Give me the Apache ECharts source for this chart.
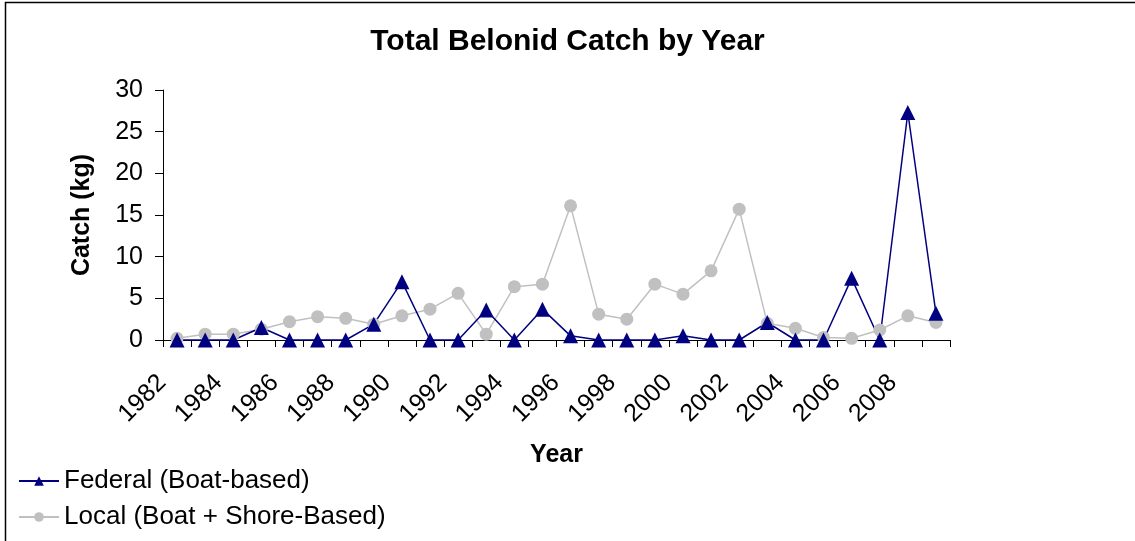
<!DOCTYPE html>
<html lang="en">
<head>
    <meta charset="UTF-8">
    <script src="https://cdn.jsdelivr.net/npm/echarts@6/dist/echarts.min.js"></script>
    <style>
        html, body {margin:0; padding:0; background:#fff;}
        #chart {width:1135px; height:541px;}
    </style>
    <title>Total Belonid Catch by Year</title>
    <script>
        // years on the x axis
        const years = ['1982','1983','1984','1985','1986','1987','1988','1989','1990','1991',
                       '1992','1993','1994','1995','1996','1997','1998','1999','2000','2001',
                       '2002','2003','2004','2005','2006','2007','2008','2009'];
        // Federal (Boat-based) catch, kg
        const federal = [0, 0, 0, 1.5, 0, 0, 0, 1.9, 7.0, 0,
                         0, 3.6, 0, 3.7, 0.5, 0, 0, 0, 0.5, 0,
                         0, 2.1, 0, 0, 7.4, 0, 27.3, 3.2];
        // Local (Boat + Shore-Based) catch, kg
        const local = [0.2, 0.7, 0.7, 1.3, 2.2, 2.8, 2.6, 1.9, 2.9, 3.7,
                       5.6, 0.7, 6.4, 6.7, 16.1, 3.1, 2.5, 6.7, 5.5, 8.3,
                       15.7, 2.0, 1.4, 0.3, 0.2, 1.2, 2.9, 2.1];
        const yTicks = [0, 30, 5]; // min, max, step

        const font = '"Liberation Sans", Arial, sans-serif';

        window.onload = function () {
            let chart = echarts.init(document.getElementById('chart'));
            let options = {
                animation: false,
                textStyle: {fontFamily: font},
                graphic: [{
                    type: 'rect',
                    shape: {x: 5.5, y: 2.5, width: 1140, height: 560},
                    style: {fill: 'none', stroke: '#000', lineWidth: 1.5},
                    silent: true
                }],
                title: {
                    text: 'Total Belonid Catch by Year',
                    left: 'center',
                    top: 22,
                    textStyle: {fontFamily: font, fontSize: 30, fontWeight: 'bold', color: '#000'}
                },
                legend: {
                    orient: 'vertical',
                    left: 13,
                    top: 463,
                    itemWidth: 40,
                    itemHeight: 12,
                    itemGap: 10,
                    textStyle: {fontFamily: font, fontSize: 26, color: '#000'},
                    data: ['Federal (Boat-based)', 'Local (Boat + Shore-Based)']
                },
                grid: {left: 163, right: 185, top: 90, bottom: 201, containLabel: false},
                xAxis: {
                    type: 'category',
                    data: years,
                    boundaryGap: true,
                    name: 'Year',
                    nameLocation: 'middle',
                    nameGap: 103,
                    nameTextStyle: {fontFamily: font, fontSize: 25, fontWeight: 'bold', color: '#000'},
                    axisLine: {lineStyle: {color: '#000', width: 1}},
                    axisTick: {show: true, length: 7, inside: false, alignWithLabel: false, interval: 0, lineStyle: {color: '#000'}},
                    axisLabel: {interval: 1, rotate: 45, margin: 24, padding: [0, 21, 0, 0], fontFamily: font, fontSize: 25, color: '#000'}
                },
                yAxis: {
                    type: 'value',
                    min: yTicks[0],
                    max: yTicks[1],
                    interval: yTicks[2],
                    name: 'Catch (kg)',
                    nameLocation: 'middle',
                    nameGap: 68,
                    nameTextStyle: {fontFamily: font, fontSize: 25, fontWeight: 'bold', color: '#000'},
                    axisLine: {show: true, lineStyle: {color: '#000', width: 1}},
                    axisTick: {show: true, length: 8, lineStyle: {color: '#000'}},
                    axisLabel: {margin: 20, fontFamily: font, fontSize: 25, color: '#000'},
                    splitLine: {show: false}
                },
                series: [
                    {
                        name: 'Local (Boat + Shore-Based)',
                        type: 'line',
                        data: local,
                        symbol: 'circle',
                        symbolSize: 13,
                        color: '#C0C0C0',
                        lineStyle: {color: '#C0C0C0', width: 1.5},
                        itemStyle: {color: '#C0C0C0'}
                    },
                    {
                        name: 'Federal (Boat-based)',
                        type: 'line',
                        data: federal,
                        symbol: 'triangle',
                        symbolSize: 15,
                        color: '#000080',
                        lineStyle: {color: '#000080', width: 1.5},
                        itemStyle: {color: '#000080'},
                        z: 3
                    }
                ]
            };
            chart.setOption(options);
        };
    </script>
</head>
<body>
    <div id="chart"></div>
</body>
</html>
